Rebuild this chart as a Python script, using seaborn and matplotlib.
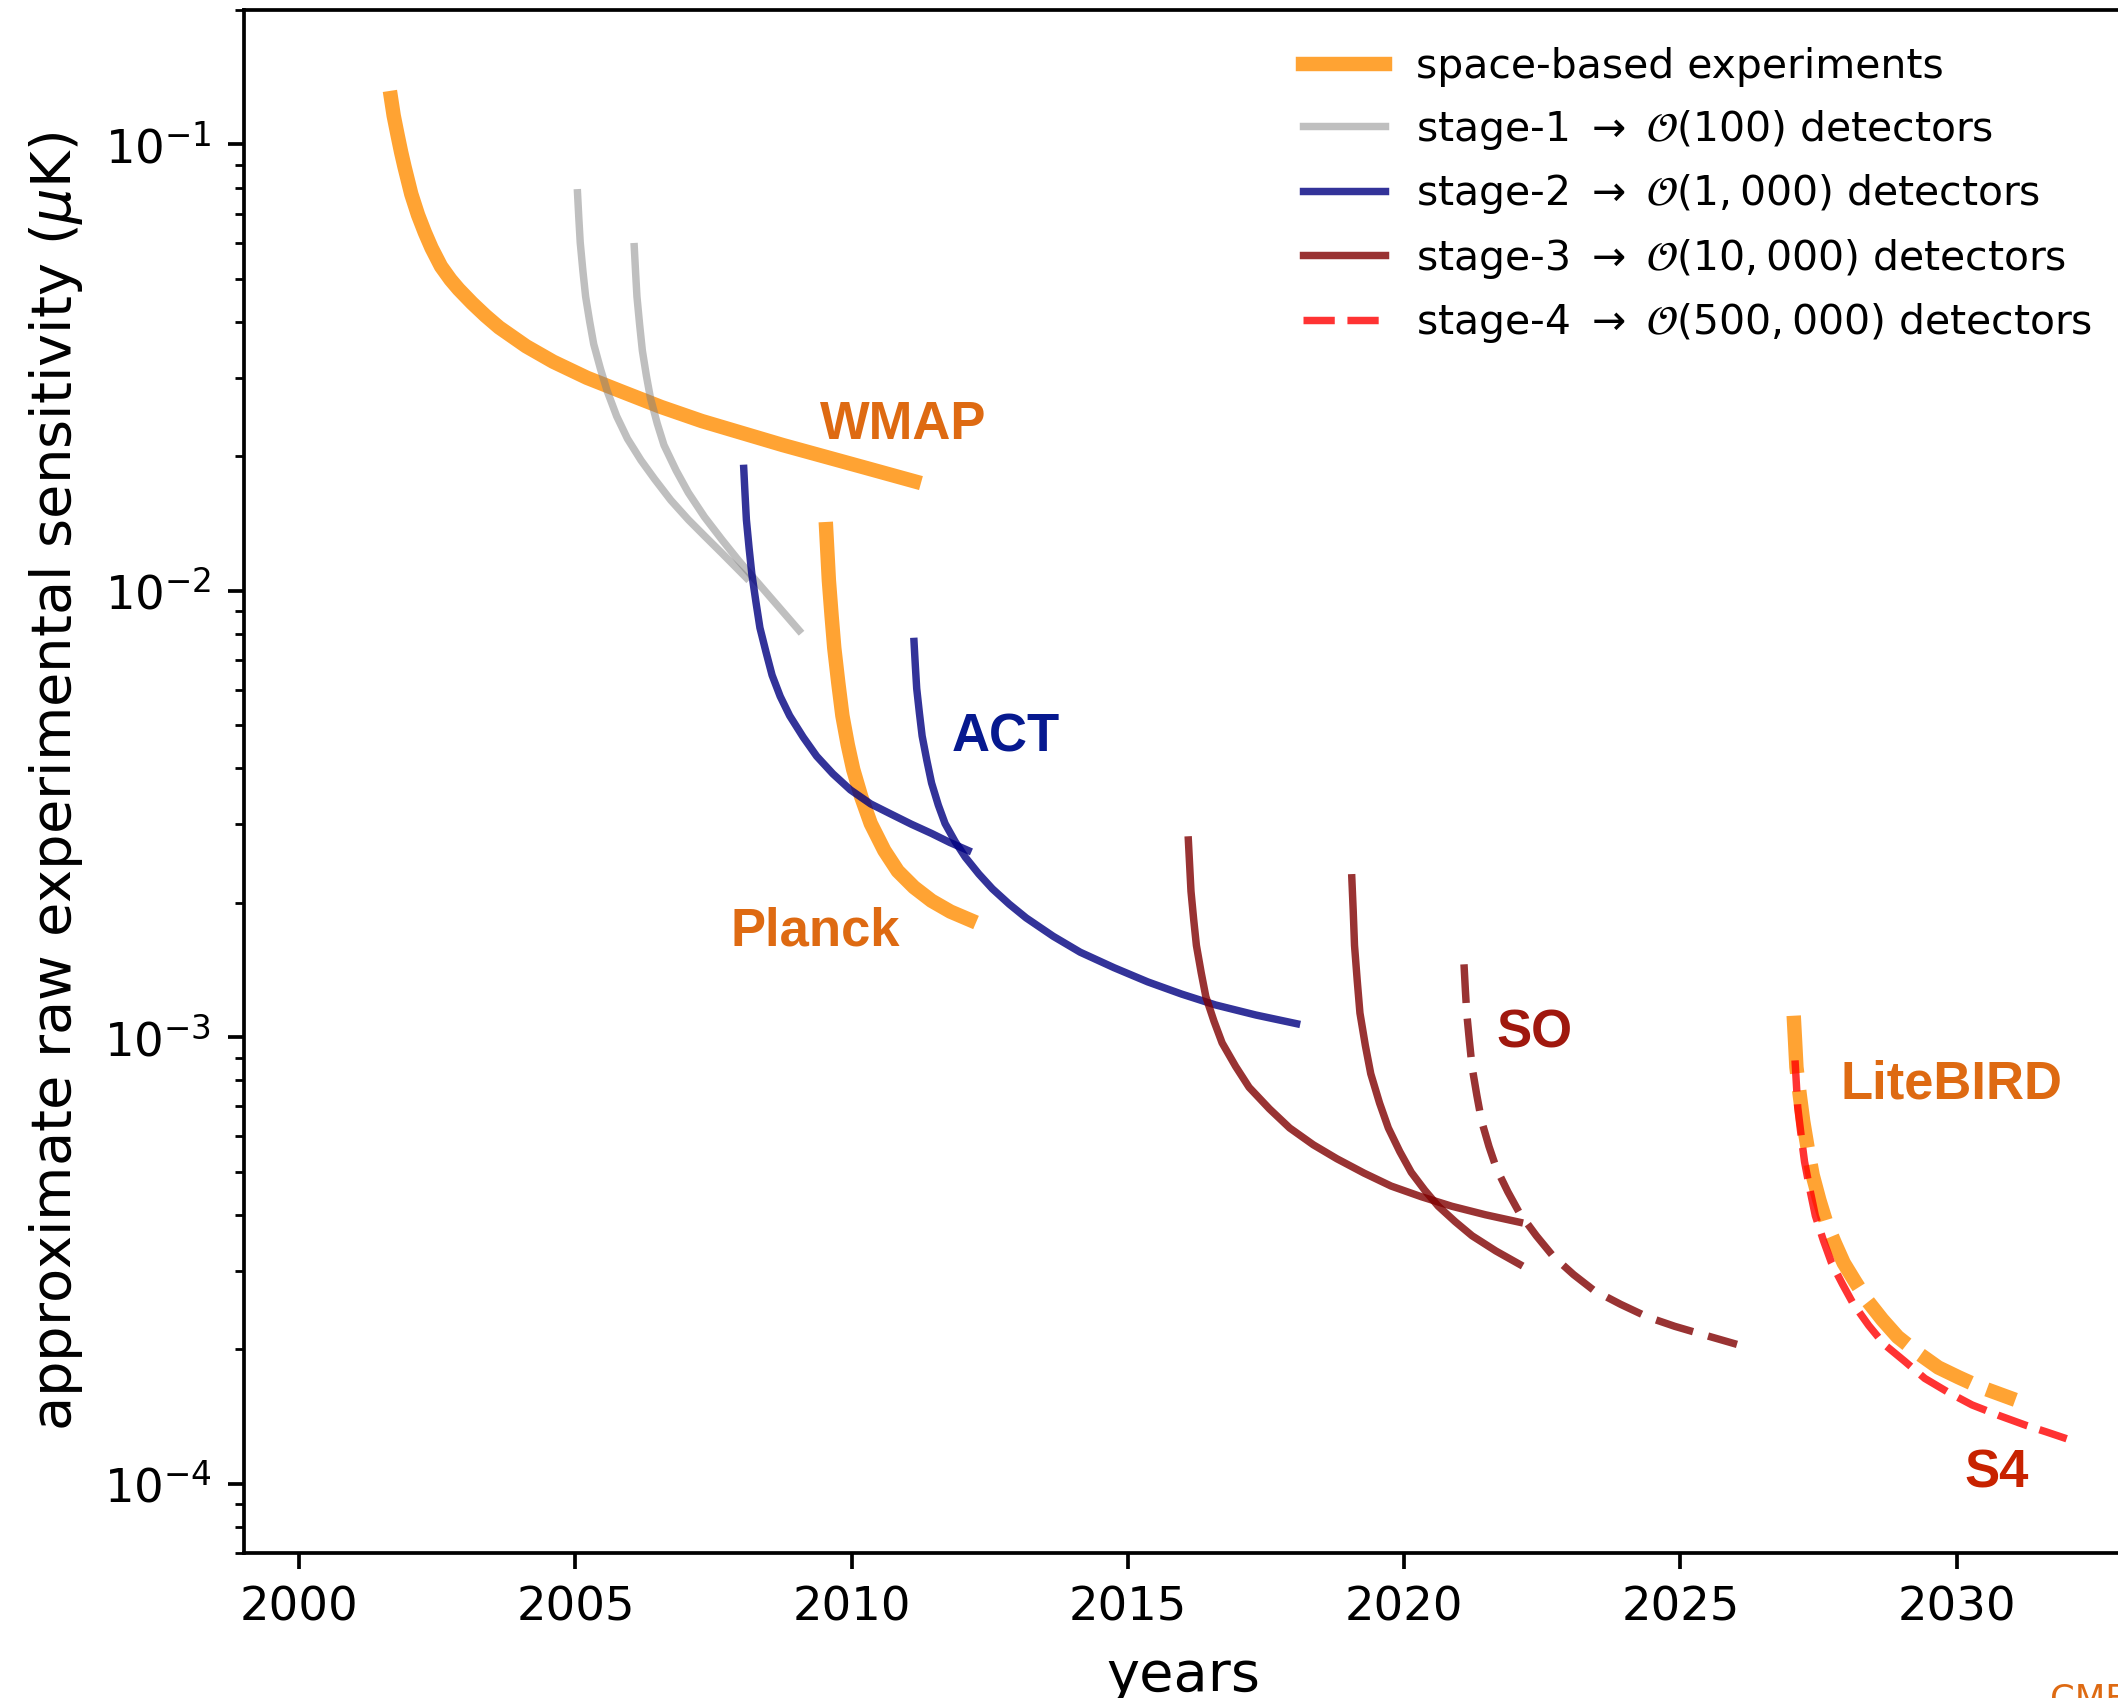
import numpy as np
import pandas as pd
import matplotlib
matplotlib.use("Agg")
import matplotlib.pyplot as plt
import seaborn as sns

# ---------------- data ----------------
wmap_year = [2001.661, 2001.710, 2001.783, 2001.844, 2001.906, 2002.028, 2002.150, 2002.273,
             2002.395, 2002.566, 2002.737, 2002.884, 2003.129, 2003.373, 2003.618, 2004.107,
             2004.596, 2005.208, 2005.819, 2006.553, 2007.287, 2008.755, 2010.222, 2011.128]
wmap_sens = [0.1270, 0.1159, 0.1045, 0.0961, 0.0890, 0.0774, 0.0695, 0.0635,
             0.0586, 0.0533, 0.0498, 0.0474, 0.0441, 0.0413, 0.0389, 0.0353,
             0.0326, 0.0300, 0.0280, 0.0258, 0.0240, 0.0212, 0.0189, 0.0176]

planck_year = [2009.538, 2009.562, 2009.587, 2009.636, 2009.685, 2009.758, 2009.832, 2009.929,
               2010.027, 2010.174, 2010.345, 2010.590, 2010.834, 2011.128, 2011.446, 2011.788,
               2012.131]
planck_sens = [0.01374, 0.01208, 0.01055, 0.00880, 0.00744, 0.00621, 0.00525, 0.00452,
               0.00398, 0.00345, 0.00301, 0.00262, 0.002356, 0.002167, 0.002021, 0.001911,
               0.001833]

stage1a_year = [2005.037, 2005.061, 2005.086, 2005.135, 2005.184, 2005.257, 2005.330, 2005.453,
                2005.575, 2005.746, 2005.942, 2006.186, 2006.431, 2006.725, 2007.043, 2007.336,
                2007.654, 2008.094]
stage1a_sens = [0.0779, 0.0683, 0.0603, 0.0520, 0.0456, 0.0401, 0.0357, 0.0314,
                0.0280, 0.0246, 0.0219, 0.0196, 0.0178, 0.01596, 0.01443, 0.01327,
                0.01213, 0.01069]

stage1b_year = [2006.064, 2006.089, 2006.113, 2006.162, 2006.211, 2006.284, 2006.358, 2006.480,
                2006.602, 2006.822, 2007.043, 2007.336, 2007.654, 2007.948, 2008.266, 2009.048]
stage1b_sens = [0.0590, 0.0515, 0.0456, 0.0394, 0.0345, 0.0303, 0.0270, 0.0237,
                0.0212, 0.0186, 0.01659, 0.01463, 0.01300, 0.01171, 0.01054, 0.00815]

stage2a_year = [2008.046, 2008.070, 2008.094, 2008.143, 2008.192, 2008.266, 2008.339, 2008.449,
                2008.559, 2008.706, 2008.877, 2009.122, 2009.366, 2009.660, 2009.978, 2010.345,
                2010.712, 2011.079, 2011.446, 2011.776, 2012.106]
stage2a_sens = [0.01880, 0.01641, 0.01443, 0.01246, 0.01092, 0.00945, 0.00826, 0.00729,
                0.00647, 0.00580, 0.00525, 0.00470, 0.00426, 0.00389, 0.00358, 0.00333,
                0.00316, 0.00300, 0.00286, 0.00273, 0.00262]

act_year = [2011.128, 2011.152, 2011.177, 2011.226, 2011.275, 2011.360, 2011.446, 2011.568,
            2011.690, 2011.874, 2012.057, 2012.302, 2012.546, 2012.852, 2013.158, 2013.647,
            2014.136, 2014.748, 2015.359, 2015.971, 2016.583, 2017.317, 2018.053]
act_sens = [0.00770, 0.00680, 0.00604, 0.00532, 0.00473, 0.00417, 0.00371, 0.00331,
            0.00301, 0.00274, 0.00253, 0.00232, 0.00215, 0.001986, 0.00185, 0.001683,
            0.00155, 0.001431, 0.00133, 0.001249, 0.001181, 0.001121, 0.001072]

stage3a_year = [2016.094, 2016.118, 2016.142, 2016.191, 2016.240, 2016.326, 2016.411, 2016.558,
                2016.705, 2016.950, 2017.194, 2017.561, 2017.928, 2018.356, 2018.784, 2019.274,
                2019.763, 2020.313, 2020.864, 2021.475, 2022.087]
stage3a_sens = [0.002765, 0.002422, 0.002121, 0.001833, 0.001605, 0.001396, 0.001232, 0.001086,
                0.000971, 0.000860, 0.000772, 0.000691, 0.000626, 0.000574, 0.000534, 0.000496,
                0.000464, 0.000439, 0.000418, 0.000400, 0.000385]

stage3b_year = [2019.053, 2019.078, 2019.102, 2019.151, 2019.200, 2019.298, 2019.396, 2019.555,
                2019.714, 2019.922, 2020.129, 2020.374, 2020.619, 2020.925, 2021.230, 2021.659,
                2022.087]
stage3b_sens = [0.002275, 0.001925, 0.001605, 0.001339, 0.001133, 0.000958, 0.000828, 0.000712,
                0.000626, 0.000554, 0.000498, 0.000454, 0.000418, 0.000386, 0.000359, 0.000332,
                0.000310]

so_year = [2021.084, 2021.108, 2021.133, 2021.182, 2021.230, 2021.316, 2021.402, 2021.536,
           2021.671, 2021.879, 2022.087, 2022.393, 2022.698, 2023.065, 2023.432, 2023.921,
           2024.410, 2024.900, 2025.389, 2026.025]
so_sens = [0.001456, 0.001279, 0.001133, 0.000979, 0.000857, 0.000741, 0.000649, 0.000569,
           0.000508, 0.000450, 0.000404, 0.000359, 0.000323, 0.000294, 0.000271, 0.000252,
           0.000236, 0.000225, 0.000216, 0.000205]

litebird_year = [2027.052, 2027.077, 2027.101, 2027.162, 2027.223, 2027.309, 2027.395, 2027.517,
                 2027.639, 2027.799, 2027.957, 2028.166, 2028.373, 2028.655, 2028.935, 2029.303,
                 2029.669, 2030.037, 2030.403, 2031.064]
litebird_sens = [0.001117, 0.000979, 0.000857, 0.000741, 0.000649, 0.000560, 0.000491, 0.000431,
                 0.000385, 0.000345, 0.000312, 0.000283, 0.000258, 0.000233, 0.000213, 0.000196,
                 0.000182, 0.000173, 0.000165, 0.000154]

s4_year = [2027.076, 2027.101, 2027.125, 2027.187, 2027.248, 2027.346, 2027.444, 2027.591,
           2027.737, 2027.933, 2028.128, 2028.410, 2028.691, 2029.059, 2029.425, 2029.853,
           2030.281, 2030.771, 2031.259, 2031.627, 2031.993]
s4_sens = [0.000887, 0.000783, 0.000696, 0.000601, 0.000526, 0.000455, 0.000398, 0.000350,
           0.000312, 0.000280, 0.000253, 0.000226, 0.000205, 0.000188, 0.000172, 0.000160,
           0.000150, 0.000142, 0.000135, 0.0001305, 0.000126]

legend_labels = ["space-based experiments",
                 r"stage-1 $\rightarrow$ $\mathcal{O}(100)$ detectors",
                 r"stage-2 $\rightarrow$ $\mathcal{O}(1,000)$ detectors",
                 r"stage-3 $\rightarrow$ $\mathcal{O}(10,000)$ detectors",
                 r"stage-4 $\rightarrow$ $\mathcal{O}(500,000)$ detectors"]

name_labels = ["WMAP", "Planck", "ACT", "SO", "LiteBIRD", "S4"]
name_year = [2010.93, 2009.34, 2012.79, 2022.36, 2029.91, 2030.72]
name_sens = [0.0235, 0.001721, 0.004697, 0.001019, 0.000782, 0.0001051]

# ---------------- styling ----------------
DPI = 335
W, H = 2118, 1698
fig = plt.figure(figsize=(W / DPI, H / DPI), dpi=DPI)
ax = fig.add_axes([244 / W, (H - 1552.7) / H, (2122.3 - 244) / W, (1552.7 - 10) / H])

ORANGE = "darkorange"
GRAY = "gray"
BLUE = "navy"
DRED = "maroon"
RED = "red"
THIN = 1.6
THICK = 3.1


def draw(years, sens, color, lw, alpha, label=None, dashes=None):
    df = pd.DataFrame({"year": years, "sens": sens})
    kw = {}
    if dashes is not None:
        kw["dashes"] = dashes
    sns.lineplot(data=df, x="year", y="sens", ax=ax, sort=False, estimator=None,
                 color=color, lw=lw, alpha=alpha, label=label, **kw)


draw(wmap_year, wmap_sens, ORANGE, THICK, 0.8, legend_labels[0])
draw(planck_year, planck_sens, ORANGE, THICK, 0.8)
draw(litebird_year, litebird_sens, ORANGE, THICK, 0.8, dashes=(4.0, 1.2))
draw(stage1a_year, stage1a_sens, GRAY, THIN, 0.5, legend_labels[1])
draw(stage1b_year, stage1b_sens, GRAY, THIN, 0.5)
draw(stage2a_year, stage2a_sens, BLUE, THIN, 0.8, legend_labels[2])
draw(act_year, act_sens, BLUE, THIN, 0.8)
draw(stage3a_year, stage3a_sens, DRED, THIN, 0.8, legend_labels[3])
draw(stage3b_year, stage3b_sens, DRED, THIN, 0.8)
draw(so_year, so_sens, DRED, THIN, 0.8, dashes=(5.2, 2.1))
draw(s4_year, s4_sens, RED, THIN, 0.8, legend_labels[4], dashes=(4.2, 1.7))

ax.set_yscale("log")
ax.set_xlim(1999, 2033)
ax.set_ylim(7e-5, 0.2)
ax.set_xticks([2000, 2005, 2010, 2015, 2020, 2025, 2030])
ax.set_xlabel("years", fontsize=12)
ax.set_ylabel(r"approximate raw experimental sensitivity ($\mu$K)", fontsize=12)

name_colors = ["#DE6A12", "#DE6A12", "#06198F", "#A0180E", "#DE6A12", "#C82200"]
for t, x, y, c in zip(name_labels, name_year, name_sens, name_colors):
    ax.text(x, y, t, color=c, fontsize=11.3, fontweight="bold",
            family="Liberation Sans", ha="center", va="center")

leg = ax.legend(loc="upper left", bbox_to_anchor=(1287 / W, 0.9818),
                bbox_transform=fig.transFigure, frameon=False, fontsize=8.8,
                borderaxespad=0, handlelength=2.0, handletextpad=0.75)

fig.text(2050 / W, 1 - 1682 / H, "CMB-S4", color="#DE6A12", fontsize=7.6,
         ha="left", va="top")

fig.savefig("out.png", dpi=DPI)
